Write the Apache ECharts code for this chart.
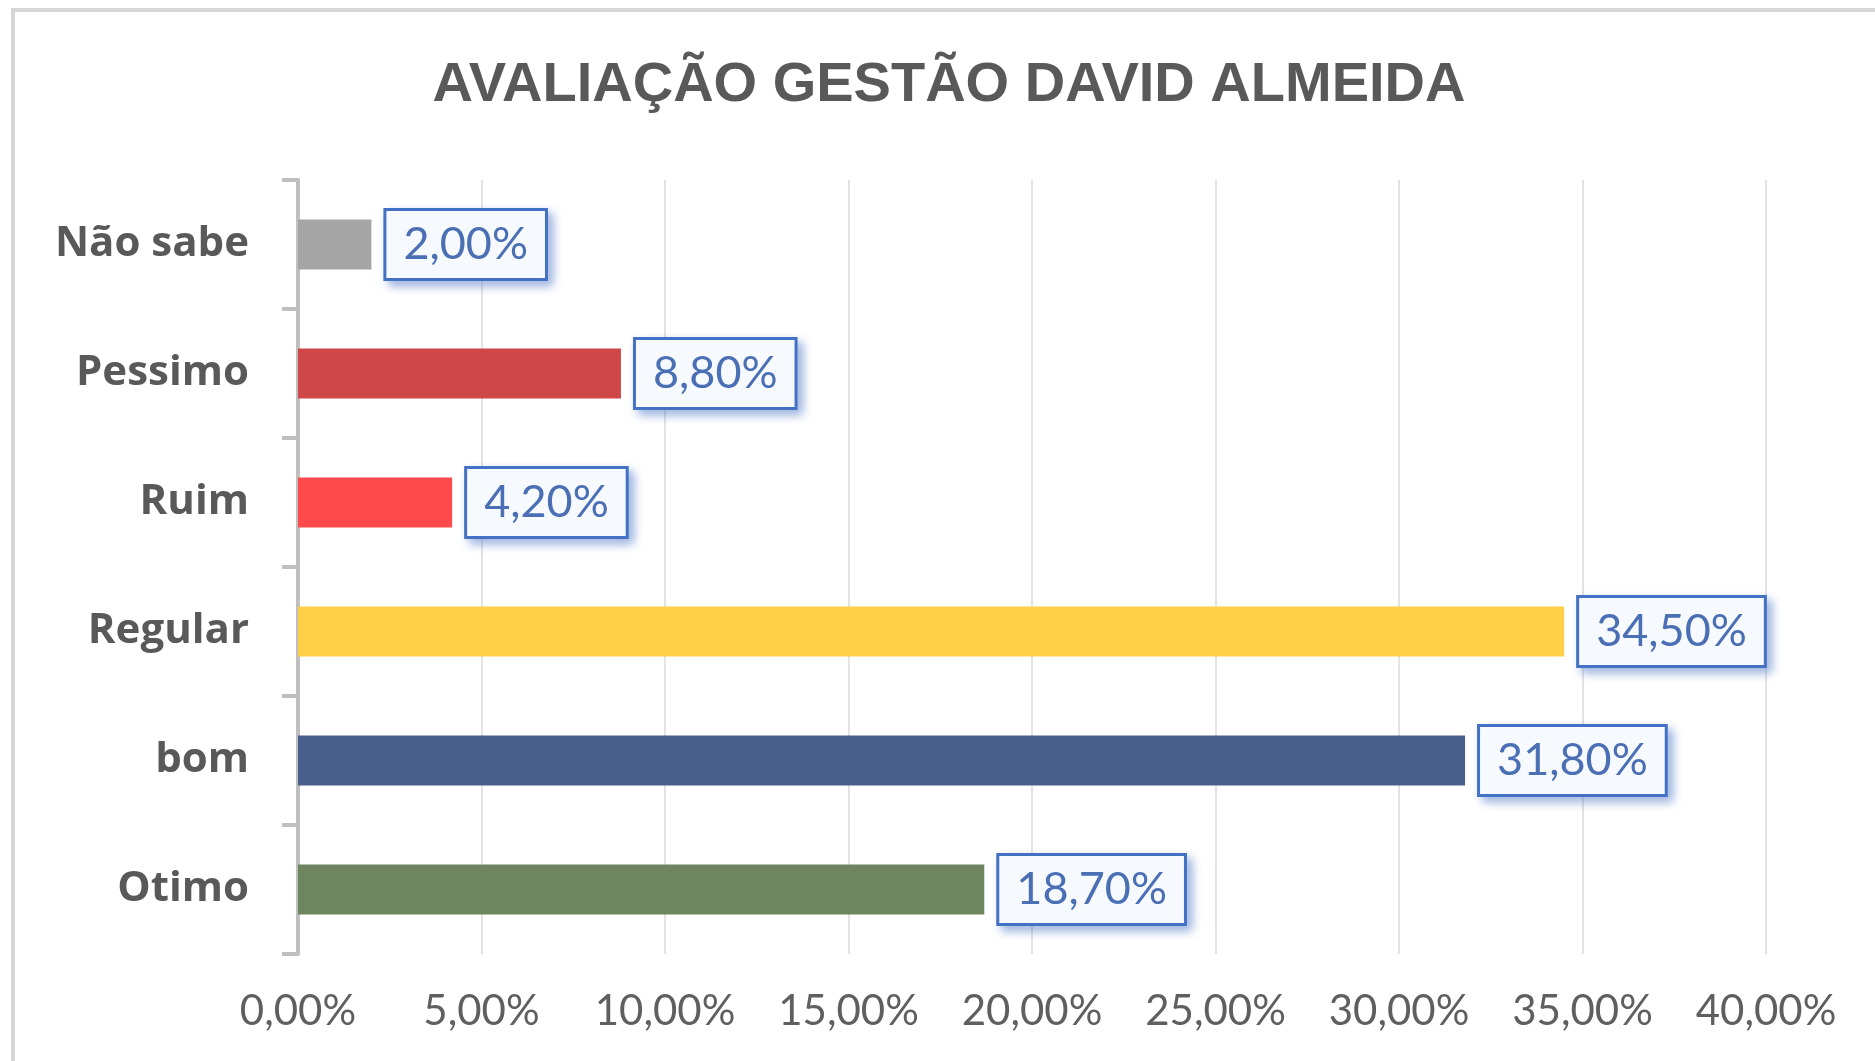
<!DOCTYPE html>
<html>
<head>
<meta charset="utf-8">
<script src="https://cdn.jsdelivr.net/npm/echarts@6/dist/echarts.min.js"></script>
<style>
  html, body { margin: 0; padding: 0; background: #fff; }
  #chart { width: 1875px; height: 1061px; }
</style>
</head>
<body>
<div id="chart"></div>
<script>
// data, top to bottom as in the picture
var categories = ['Não sabe', 'Pessimo', 'Ruim', 'Regular', 'bom', 'Otimo'];
var values = [2.0, 8.8, 4.2, 34.5, 31.8, 18.7];
var barColors = ['#a5a5a5', '#d0474a', '#fe4a4a', '#ffd047', '#485e8c', '#6e8660'];
var xTicks = [0, 5, 10, 15, 20, 25, 30, 35, 40];

var pct = function (v) { return v.toFixed(2).replace('.', ',') + '%'; };

var chart = echarts.init(document.getElementById('chart'));

chart.setOption({
  backgroundColor: '#fff',
  animation: false,
  graphic: [
    {
      type: 'rect',
      shape: { x: 13, y: 10, width: 1900, height: 1100 },
      style: { fill: 'none', stroke: '#d6d6d6', lineWidth: 4 },
      silent: true
    },
    {
      type: 'text',
      x: 949,
      y: 58,
      style: {
        text: 'AVALIAÇÃO GESTÃO DAVID ALMEIDA',
        fill: '#595959',
        align: 'center',
        font: 'bold 56px "Liberation Sans", Arial, sans-serif'
      }
    }
  ],
  grid: { left: 298, right: 109, top: 180, bottom: 107 },
  xAxis: {
    type: 'value',
    min: xTicks[0],
    max: xTicks[xTicks.length - 1],
    interval: xTicks[1] - xTicks[0],
    axisLine: { show: false },
    axisTick: { show: false },
    splitLine: { lineStyle: { color: '#e3e3e3', width: 2 } },
    axisLabel: {
      formatter: pct,
      color: '#5f5f5f',
      fontFamily: 'Lato',
      fontSize: 42,
      margin: 36
    }
  },
  yAxis: {
    type: 'category',
    data: categories,
    inverse: true,
    axisLine: { show: true, lineStyle: { color: '#bfbfbf', width: 4 } },
    axisTick: { show: true, alignWithLabel: false, length: 16, lineStyle: { color: '#bfbfbf', width: 4 } },
    axisLabel: {
      color: '#595959',
      fontFamily: '"Open Sans"',
      fontWeight: 'bold',
      fontSize: 42,
      margin: 49
    }
  },
  series: [{
    type: 'bar',
    barWidth: 50,
    data: values.map(function (v, i) {
      return { value: v, itemStyle: { color: barColors[i] } };
    }),
    label: {
      show: true,
      position: 'right',
      distance: 15,
      formatter: function (p) { return pct(p.value); },
      color: '#4a6fb5',
      fontFamily: 'Lato',
      fontSize: 45,
      backgroundColor: '#f6f9fd',
      borderColor: '#4472c4',
      borderWidth: 3,
      padding: [12, 17, 10, 17],
      shadowColor: 'rgba(68,114,196,0.45)',
      shadowBlur: 10,
      shadowOffsetX: 5,
      shadowOffsetY: 5
    }
  }]
});
</script>
</body>
</html>
